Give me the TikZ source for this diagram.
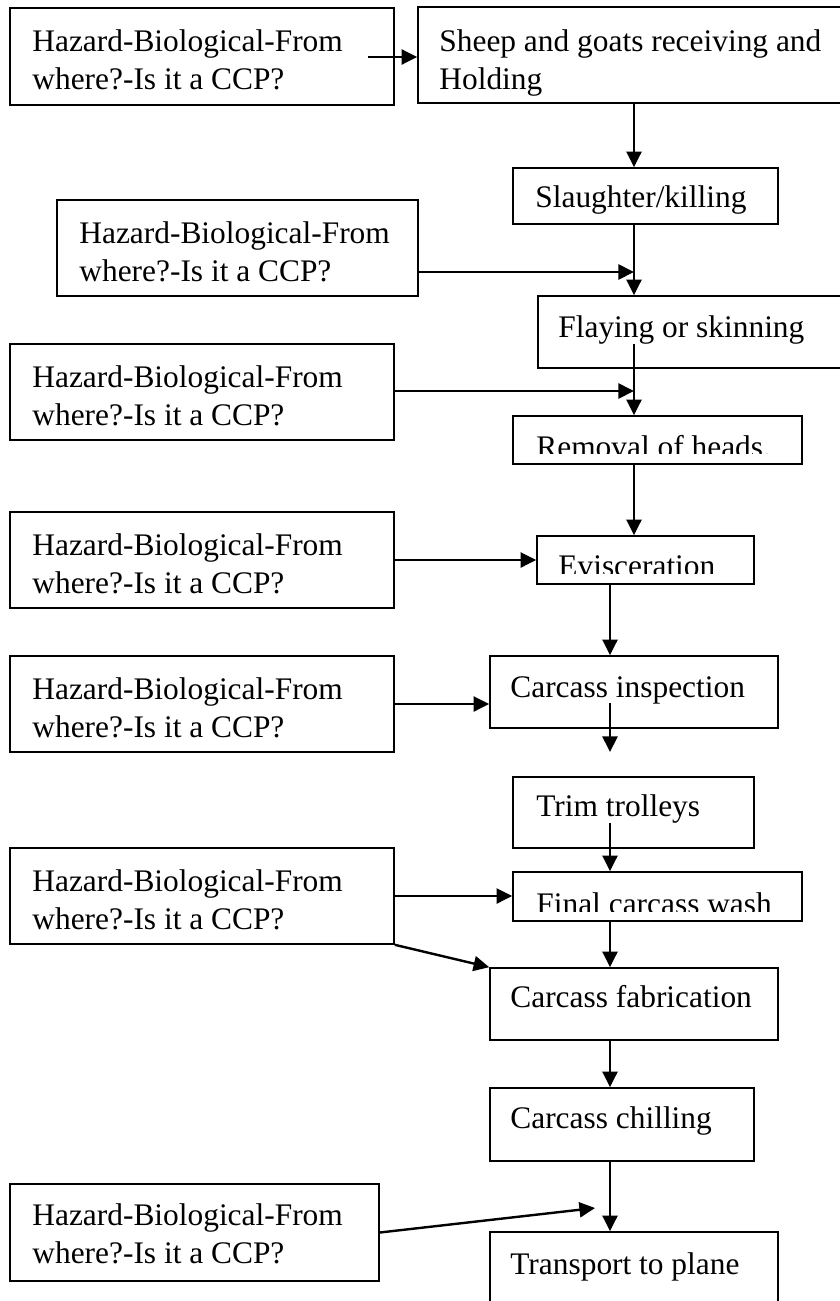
\documentclass[tikz,border=0pt]{standalone}
\usepackage{fontspec}
\setmainfont{Liberation Serif}
\usetikzlibrary{arrows.meta,fit}
\begin{document}
\begin{tikzpicture}[x=0.5pt,y=-0.5pt,
  box/.style={draw, line width=0.8pt, inner sep=0pt},
  lbl/.style={anchor=base west, inner sep=0pt, font=\fontsize{15.7pt}{19pt}\selectfont},
  arr/.style={line width=1.2pt, -{Triangle[length=7.8pt,width=7.5pt]}}]
\useasboundingbox (0,0) rectangle (840,1301);
\clip (0,0) rectangle (840,1301);
% boxes
\node[box, fit={(10,8) (394,105)}] (h1) {};
\node[box, fit={(418,7) (850,103)}] (s1) {};
\node[box, fit={(513,168) (778,224)}] (sl) {};
\node[box, fit={(57,200) (418,296)}] (h2) {};
\node[box, fit={(538,296) (850,368)}] (fl) {};
\node[box, fit={(10,344) (394,440)}] (h3) {};
\node[box, fit={(513,416) (802,464)}] (rm) {};
\node[box, fit={(10,512) (394,608)}] (h4) {};
\node[box, fit={(537,536) (754,584)}] (ev) {};
\node[box, fit={(10,656) (394,752)}] (h5) {};
\node[box, fit={(490,656) (778,728)}] (ci) {};
\node[box, fit={(513,777) (754,848)}] (tt) {};
\node[box, fit={(10,848) (394,944)}] (h6) {};
\node[box, fit={(513,872) (802,921)}] (fw) {};
\node[box, fit={(490,968) (778,1040)}] (cf) {};
\node[box, fit={(490,1088) (754,1161)}] (ch) {};
\node[box, fit={(10,1184) (379,1281)}] (h7) {};
\node[box, fit={(490,1232) (778,1330)}] (tp) {};
% texts
\node[lbl] (h1a) at (32,51) {Hazard-Biological-From};
\node[lbl] (h1b) at (32,89) {where?-Is it a CCP?};
\node[lbl] (s1a) at (439,51) {Sheep and goats receiving and};
\node[lbl] (s1b) at (439,89) {Holding};
\node[lbl] (slt) at (535,207) {Slaughter/killing};
\node[lbl] (h2a) at (79,243) {Hazard-Biological-From};
\node[lbl] (h2b) at (79,281) {where?-Is it a CCP?};
\node[lbl] (flt) at (558,337) {Flaying or skinning};
\node[lbl] (h3a) at (32,387) {Hazard-Biological-From};
\node[lbl] (h3b) at (32,425) {where?-Is it a CCP?};
\begin{scope}
\clip (rm.north west) rectangle (rm.east |- 0,453);
\node[lbl] (rmt) at (536,457) {Removal of heads.};
\end{scope}
\node[lbl] (h4a) at (32,555) {Hazard-Biological-From};
\node[lbl] (h4b) at (32,593) {where?-Is it a CCP?};
\begin{scope}
\clip (ev.north west) rectangle (ev.east |- 0,573);
\node[lbl] (evt) at (558,576) {Evisceration};
\end{scope}
\node[lbl] (h5a) at (32,699) {Hazard-Biological-From};
\node[lbl] (h5b) at (32,737) {where?-Is it a CCP?};
\node[lbl] (cit) at (510,697) {Carcass inspection};
\node[lbl] (ttt) at (536,816) {Trim trolleys};
\node[lbl] (h6a) at (32,891) {Hazard-Biological-From};
\node[lbl] (h6b) at (32,929) {where?-Is it a CCP?};
\begin{scope}
\clip (fw.north west) rectangle (fw.east |- 0,911);
\node[lbl] (fwt) at (536,914) {Final carcass wash};
\end{scope}
\node[lbl] (cft) at (510,1007) {Carcass fabrication};
\node[lbl] (cht) at (510,1128) {Carcass chilling};
\node[lbl] (h7a) at (32,1225) {Hazard-Biological-From};
\node[lbl] (h7b) at (32,1263) {where?-Is it a CCP?};
\node[lbl] (tpt) at (510,1274) {Transport to plane};
% connector coordinates
\coordinate (c1) at (634,0);
\coordinate (c2) at (610,0);
\coordinate (h1o) at (368,57);
\coordinate (j2) at (634,272);
\coordinate (f2) at (634,344);
\coordinate (j3) at (634,391);
\coordinate (i1) at (610,703);
\coordinate (i2) at (610,752);
\coordinate (t1) at (610,823);
\coordinate (t7) at (595,1208);
% connectors
\draw[arr] (h1o) -- (h1o -| s1.west);
\draw[arr] (s1.south -| c1) -- (sl.north -| c1);
\draw[arr] (sl.south -| c1) -- (fl.north -| c1);
\draw[arr] (h2.south east |- j2) -- (j2);
\draw[arr] (f2) -- (rm.north -| f2);
\draw[arr] (h3.east |- j3) -- (j3);
\draw[arr] (rm.south -| c1) -- (ev.north -| c1);
\draw[arr] (h4.east) -- (h4.east -| ev.west);
\draw[arr] (ev.south -| c2) -- (ci.north -| c2);
\draw[arr] (h5.east) -- (h5.east -| ci.west);
\draw[arr] (i1) -- (i2);
\draw[arr] (t1) -- (fw.north -| t1);
\draw[arr] (h6.east) -- (h6.east -| fw.west);
\draw[arr] (h6.south east) -- (cf.north west);
\draw[arr] (fw.south -| c2) -- (cf.north -| c2);
\draw[arr] (cf.south -| c2) -- (ch.north -| c2);
\draw[arr] (ch.south -| c2) -- (tp.north -| c2);
\draw[arr] (h7.east) -- (t7);
\end{tikzpicture}
\end{document}
